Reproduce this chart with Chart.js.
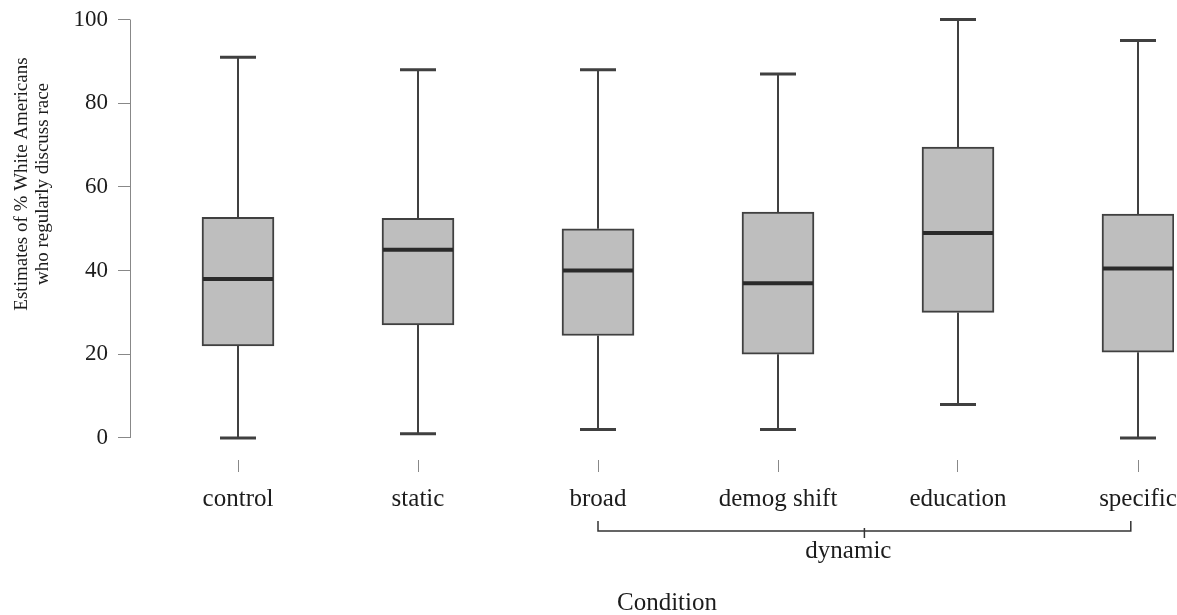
<!DOCTYPE html>
<html>
<head>
<meta charset="utf-8">
<script src="https://cdn.jsdelivr.net/npm/chart.js@4.4.1/dist/chart.umd.min.js"></script>
<style>
  html, body { margin: 0; padding: 0; background: #fff; }
  #wrap { width: 1177px; height: 615px; position: relative; }
</style>
</head>
<body>
<div id="wrap"><canvas id="box-chart"></canvas></div>
<script>
// ── Data ──────────────────────────────────────────────────────
const conditions   = ['control', 'static', 'broad', 'demog shift', 'education', 'specific'];
const whiskerLow   = [0,    1,    2,    2,  8,    0];
const quartile1    = [22,   27,   24.5, 20, 30,   20.5];
const medians      = [38,   45,   40,   37, 49,   40.5];
const quartile3    = [52.7, 52.5, 50,   54, 69.5, 53.5];
const whiskerHigh  = [91,   88,   88,   87, 100,  95];
const yTicks       = [0, 20, 40, 60, 80, 100];

const groupLabel   = 'dynamic';
const groupFrom    = 2;      // broad
const groupTo      = 4.96;   // just short of specific
const yTitleLines  = ['Estimates of % White Americans', 'who regularly discuss race'];
const xTitle       = 'Condition';

const SERIF     = '"Liberation Serif", "DejaVu Serif", serif';
const INK       = '#1c1c1c';
const LINE      = '#404040';
const BOX_FILL  = '#bebebe';

// ── Boxplot extras: whiskers, medians, axis line, bracket ─────
const boxplotPlugin = {
  id: 'boxplotExtras',
  beforeDatasetsDraw(chart) {
    const { ctx, scales: { x, y } } = chart;
    ctx.save();
    ctx.strokeStyle = LINE;
    conditions.forEach((c, i) => {
      const px = x.getPixelForValue(i);
      const capHalf = 18;
      ctx.lineWidth = 2;
      ctx.beginPath();
      ctx.moveTo(px, y.getPixelForValue(quartile3[i]));
      ctx.lineTo(px, y.getPixelForValue(whiskerHigh[i]));
      ctx.moveTo(px, y.getPixelForValue(quartile1[i]));
      ctx.lineTo(px, y.getPixelForValue(whiskerLow[i]));
      ctx.stroke();
      ctx.lineWidth = 3;
      ctx.beginPath();
      ctx.moveTo(px - capHalf, y.getPixelForValue(whiskerHigh[i]));
      ctx.lineTo(px + capHalf, y.getPixelForValue(whiskerHigh[i]));
      ctx.moveTo(px - capHalf, y.getPixelForValue(whiskerLow[i]));
      ctx.lineTo(px + capHalf, y.getPixelForValue(whiskerLow[i]));
      ctx.stroke();
    });
    ctx.restore();
  },
  afterDatasetsDraw(chart) {
    const { ctx, scales: { x, y } } = chart;
    ctx.save();
    ctx.strokeStyle = '#2a2a2a';
    ctx.lineWidth = 4;
    conditions.forEach((c, i) => {
      const px = x.getPixelForValue(i);
      const py = y.getPixelForValue(medians[i]);
      ctx.beginPath();
      ctx.moveTo(px - 35, py);
      ctx.lineTo(px + 35, py);
      ctx.stroke();
    });
    ctx.restore();
  },
  afterDraw(chart) {
    const { ctx, chartArea, scales: { x, y } } = chart;
    ctx.save();

    // y axis line, only over the tick range (R style)
    ctx.strokeStyle = '#888';
    ctx.lineWidth = 1;
    ctx.beginPath();
    ctx.moveTo(chartArea.left + 0.5, y.getPixelForValue(yTicks[0]));
    ctx.lineTo(chartArea.left + 0.5, y.getPixelForValue(yTicks[yTicks.length - 1]));
    ctx.stroke();

    // y title (two lines, rotated)
    ctx.fillStyle = INK;
    ctx.font = `19px ${SERIF}`;
    ctx.textAlign = 'center';
    ctx.textBaseline = 'middle';
    ctx.translate(0, 184);
    ctx.rotate(-Math.PI / 2);
    ctx.fillText(yTitleLines[0], 0, 22);
    ctx.fillText(yTitleLines[1], 0, 43);
    ctx.setTransform(1, 0, 0, 1, 0, 0);

    // bracket for the dynamic group
    const bx0 = x.getPixelForValue(groupFrom);
    const bx1 = x.getPixelForValue(groupTo);
    const bmid = (bx0 + bx1) / 2;
    const by = 531;
    ctx.strokeStyle = '#333';
    ctx.lineWidth = 1.5;
    ctx.beginPath();
    ctx.moveTo(bx0, by - 10);
    ctx.lineTo(bx0, by);
    ctx.lineTo(bx1, by);
    ctx.lineTo(bx1, by - 10);
    ctx.moveTo(bmid, by - 3);
    ctx.lineTo(bmid, by + 7);
    ctx.stroke();

    ctx.font = `25px ${SERIF}`;
    ctx.fillText(groupLabel, bmid - 16, 551);
    ctx.fillText(xTitle, 667, 603);
    ctx.restore();
  },
};

// ── Chart ─────────────────────────────────────────────────────
new Chart(document.getElementById('box-chart'), {
  type: 'bar',
  data: {
    datasets: [{
      label: 'IQR',
      data: conditions.map((c, i) => ({ x: i, y: [quartile1[i], quartile3[i]] })),
      backgroundColor: BOX_FILL,
      borderColor:     LINE,
      borderWidth:     2,
      borderSkipped:   false,
      barThickness:    72,
    }],
  },
  options: {
    responsive: true,
    maintainAspectRatio: false,
    animation: false,
    layout: { padding: { top: 19.5, right: 3, bottom: 0, left: 0 } },
    plugins: {
      legend:  { display: false },
      tooltip: { enabled: false },
    },
    scales: {
      x: {
        type: 'linear',
        offset: false,
        min: -0.6,
        max: 5.2,
        afterBuildTicks: s => { s.ticks = conditions.map((c, i) => ({ value: i })); },
        afterFit: s => { s.height = 155; s.paddingLeft = 0; s.paddingRight = 0; },
        grid:   { offset: false, drawOnChartArea: false, tickLength: 12, color: '#888' },
        border: { display: false },
        ticks:  {
          padding: 12,
          color: INK,
          maxRotation: 0,
          autoSkip: false,
          font: { family: SERIF, size: 25 },
          callback: v => conditions[v],
        },
      },
      y: {
        min: -5.26,
        max: 100,
        afterBuildTicks: s => { s.ticks = yTicks.map(v => ({ value: v })); },
        afterFit: s => { s.width = 130; s.paddingTop = 0; s.paddingBottom = 0; },
        grid:   { drawOnChartArea: false, tickLength: 12, color: '#888' },
        border: { display: false },
        ticks:  { padding: 10, color: INK, font: { family: SERIF, size: 23 } },
      },
    },
  },
  plugins: [boxplotPlugin],
});
</script>
</body>
</html>
